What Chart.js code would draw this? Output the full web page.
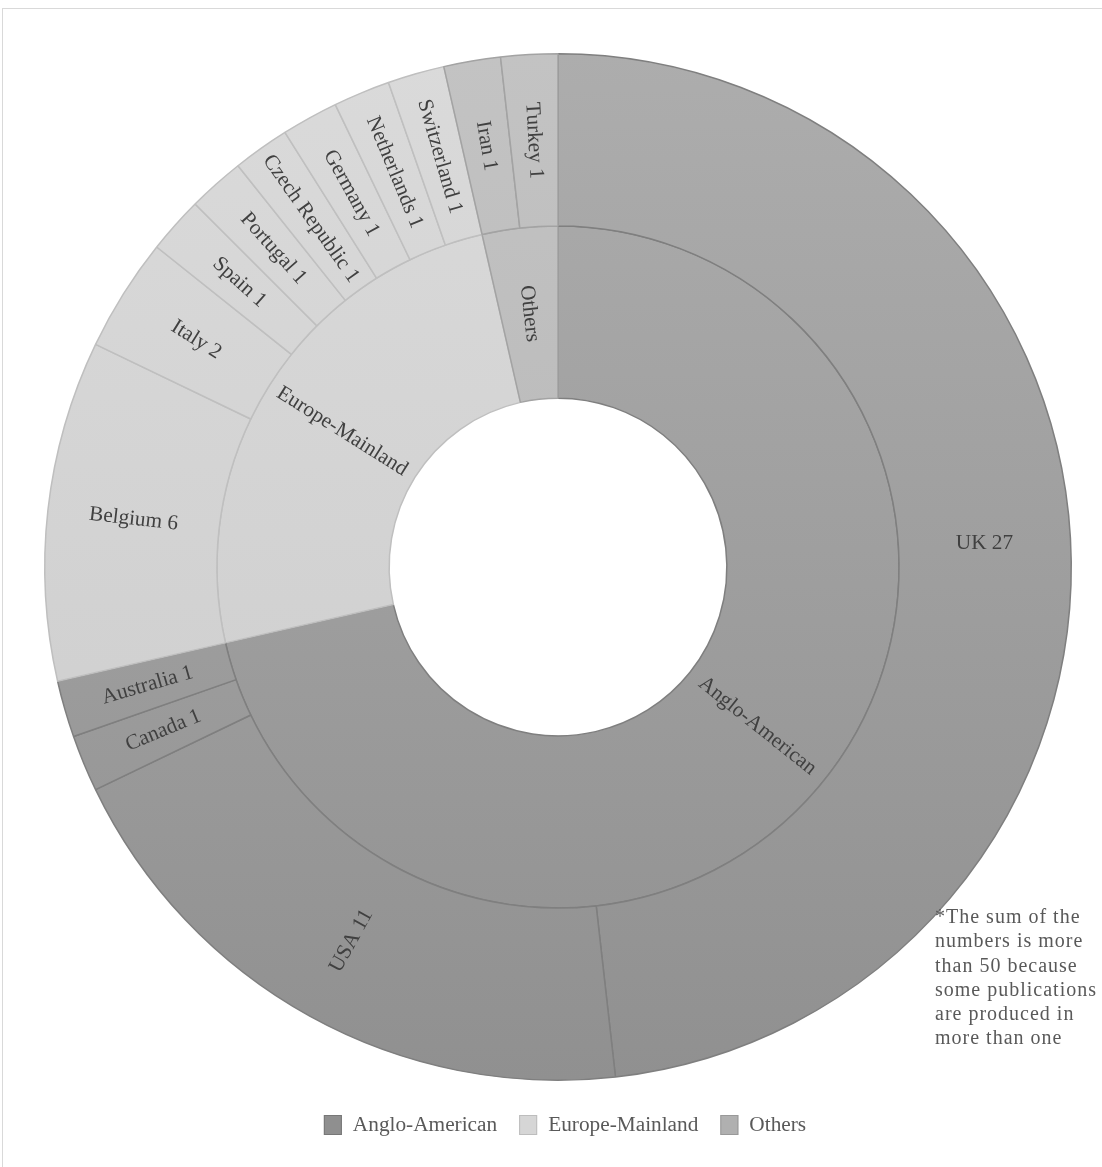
<!DOCTYPE html>
<html>
<head>
<meta charset="utf-8">
<script src="https://cdn.jsdelivr.net/npm/chart.js@4.4.1/dist/chart.umd.min.js"></script>
<style>
  html, body { margin: 0; padding: 0; background: #fff; overflow: hidden; }
  #wrap { position: relative; width: 1102px; height: 1167px; }
  #frame { position: absolute; left: 2px; top: 8px; width: 1130px; height: 1190px; border: 1px solid #d9d9d9; box-sizing: border-box; }
  #chart { position: absolute; left: 0; top: 0; }
</style>
</head>
<body>
<div id="wrap">
  <div id="frame"></div>
  <canvas id="chart" width="1102" height="1167"></canvas>
</div>
<script>
// outer ring: countries, clockwise from 12 o'clock
const countries = ["UK", "USA", "Canada", "Australia", "Belgium", "Italy", "Spain", "Portugal",
                   "Czech Republic", "Germany", "Netherlands", "Switzerland", "Iran", "Turkey"];
const counts = [27, 11, 1, 1, 6, 2, 1, 1, 1, 1, 1, 1, 1, 1];
const countryRegion = [0, 0, 0, 0, 1, 1, 1, 1, 1, 1, 1, 1, 2, 2];

// inner ring: regions
const regions = ["Anglo-American", "Europe-Mainland", "Others"];
const regionTotals = [40, 14, 2];

const noteLines = ["*The sum of the", "numbers is more", "than 50 because",
                   "some publications", "are produced in", "more than one"];

// styles per region
const shadeTop = ["#adadad", "#dadada", "#c3c3c3"];
const shadeBottom = ["#909090", "#cbcbcb", "#b2b2b2"];
const edge = ["#7f7f7f", "#bfbfbf", "#a3a3a3"];
const swatchFill = ["#8f8f8f", "#d6d6d6", "#b0b0b0"];
const swatchEdge = ["#777777", "#bdbdbd", "#999999"];

const FONT = '"Liberation Serif", "Times New Roman", serif';

function shade(c, regionIdx) {
    const area = c.chart.chartArea;
    if (!area) return shadeTop[regionIdx];
    const g = c.chart.ctx.createLinearGradient(0, area.top, 0, area.bottom);
    g.addColorStop(0, shadeTop[regionIdx]);
    g.addColorStop(1, shadeBottom[regionIdx]);
    return g;
}

/* ================= RING LABELS ================= */

const ringLabels = {
    id: "ringLabels",
    afterDatasetsDraw(chart) {
        const ctx = chart.ctx;
        ctx.save();
        ctx.font = "21.3px " + FONT;
        ctx.fillStyle = "#404040";
        ctx.textAlign = "center";
        ctx.textBaseline = "middle";
        chart.data.datasets.forEach((ds, di) => {
            chart.getDatasetMeta(di).data.forEach((arc, i) => {
                const p = arc.getProps(["x", "y", "startAngle", "endAngle", "innerRadius", "outerRadius"]);
                const mid = (p.startAngle + p.endAngle) / 2;
                const r = (p.innerRadius + p.outerRadius) / 2;
                let rot = Math.cos(mid) >= 0 ? mid : mid + Math.PI;
                // the big outer slice keeps its label level
                if (di === 0 && p.endAngle - p.startAngle > Math.PI / 2) rot = 0;
                ctx.save();
                ctx.translate(p.x + Math.cos(mid) * r, p.y + Math.sin(mid) * r);
                ctx.rotate(rot);
                ctx.fillText(ds.labelText[i], 0, 0);
                ctx.restore();
            });
        });
        ctx.restore();
    }
};

/* ================= LEGEND + NOTE ================= */

const extras = {
    id: "extras",
    afterDraw(chart) {
        const ctx = chart.ctx;
        ctx.save();
        ctx.font = "21.3px " + FONT;
        ctx.textBaseline = "middle";
        ctx.textAlign = "left";

        const box = 18, gap = 11, pad = 22, cy = 1125;
        const widths = regions.map(t => box + gap + ctx.measureText(t).width);
        const total = widths.reduce((a, b) => a + b, 0) + pad * (regions.length - 1);
        let x = 565 - total / 2;
        regions.forEach((t, i) => {
            ctx.fillStyle = swatchFill[i];
            ctx.strokeStyle = swatchEdge[i];
            ctx.lineWidth = 1;
            ctx.fillRect(x, cy - 10, box, 20);
            ctx.strokeRect(x + 0.5, cy - 9.5, box - 1, 19);
            ctx.fillStyle = "#595959";
            ctx.fillText(t, x + box + gap, cy);
            x += widths[i] + pad;
        });

        ctx.font = "20px " + FONT;
        ctx.letterSpacing = "1px";
        ctx.fillStyle = "#595959";
        noteLines.forEach((line, i) => {
            ctx.fillText(line, 935, 918 + i * 24.2);
        });
        ctx.restore();
    }
};

new Chart(document.getElementById("chart"), {
    type: "doughnut",
    data: {
        labels: countries,
        datasets: [
            {
                data: counts,
                labelText: countries.map((c, i) => c + " " + counts[i]),
                backgroundColor: c => shade(c, countryRegion[c.dataIndex]),
                borderColor: countries.map((c, i) => edge[countryRegion[i]]),
                borderWidth: 1.5
            },
            {
                data: regionTotals,
                labelText: regions,
                backgroundColor: c => shade(c, c.dataIndex),
                borderColor: edge,
                borderWidth: 1.5
            }
        ]
    },
    options: {
        responsive: false,
        devicePixelRatio: 1,
        animation: false,
        cutout: "32.9%",
        layout: { padding: { left: 44, right: 30, top: 53, bottom: 86 } },
        plugins: {
            legend: { display: false },
            tooltip: { enabled: false }
        }
    },
    plugins: [ringLabels, extras]
});
</script>
</body>
</html>
